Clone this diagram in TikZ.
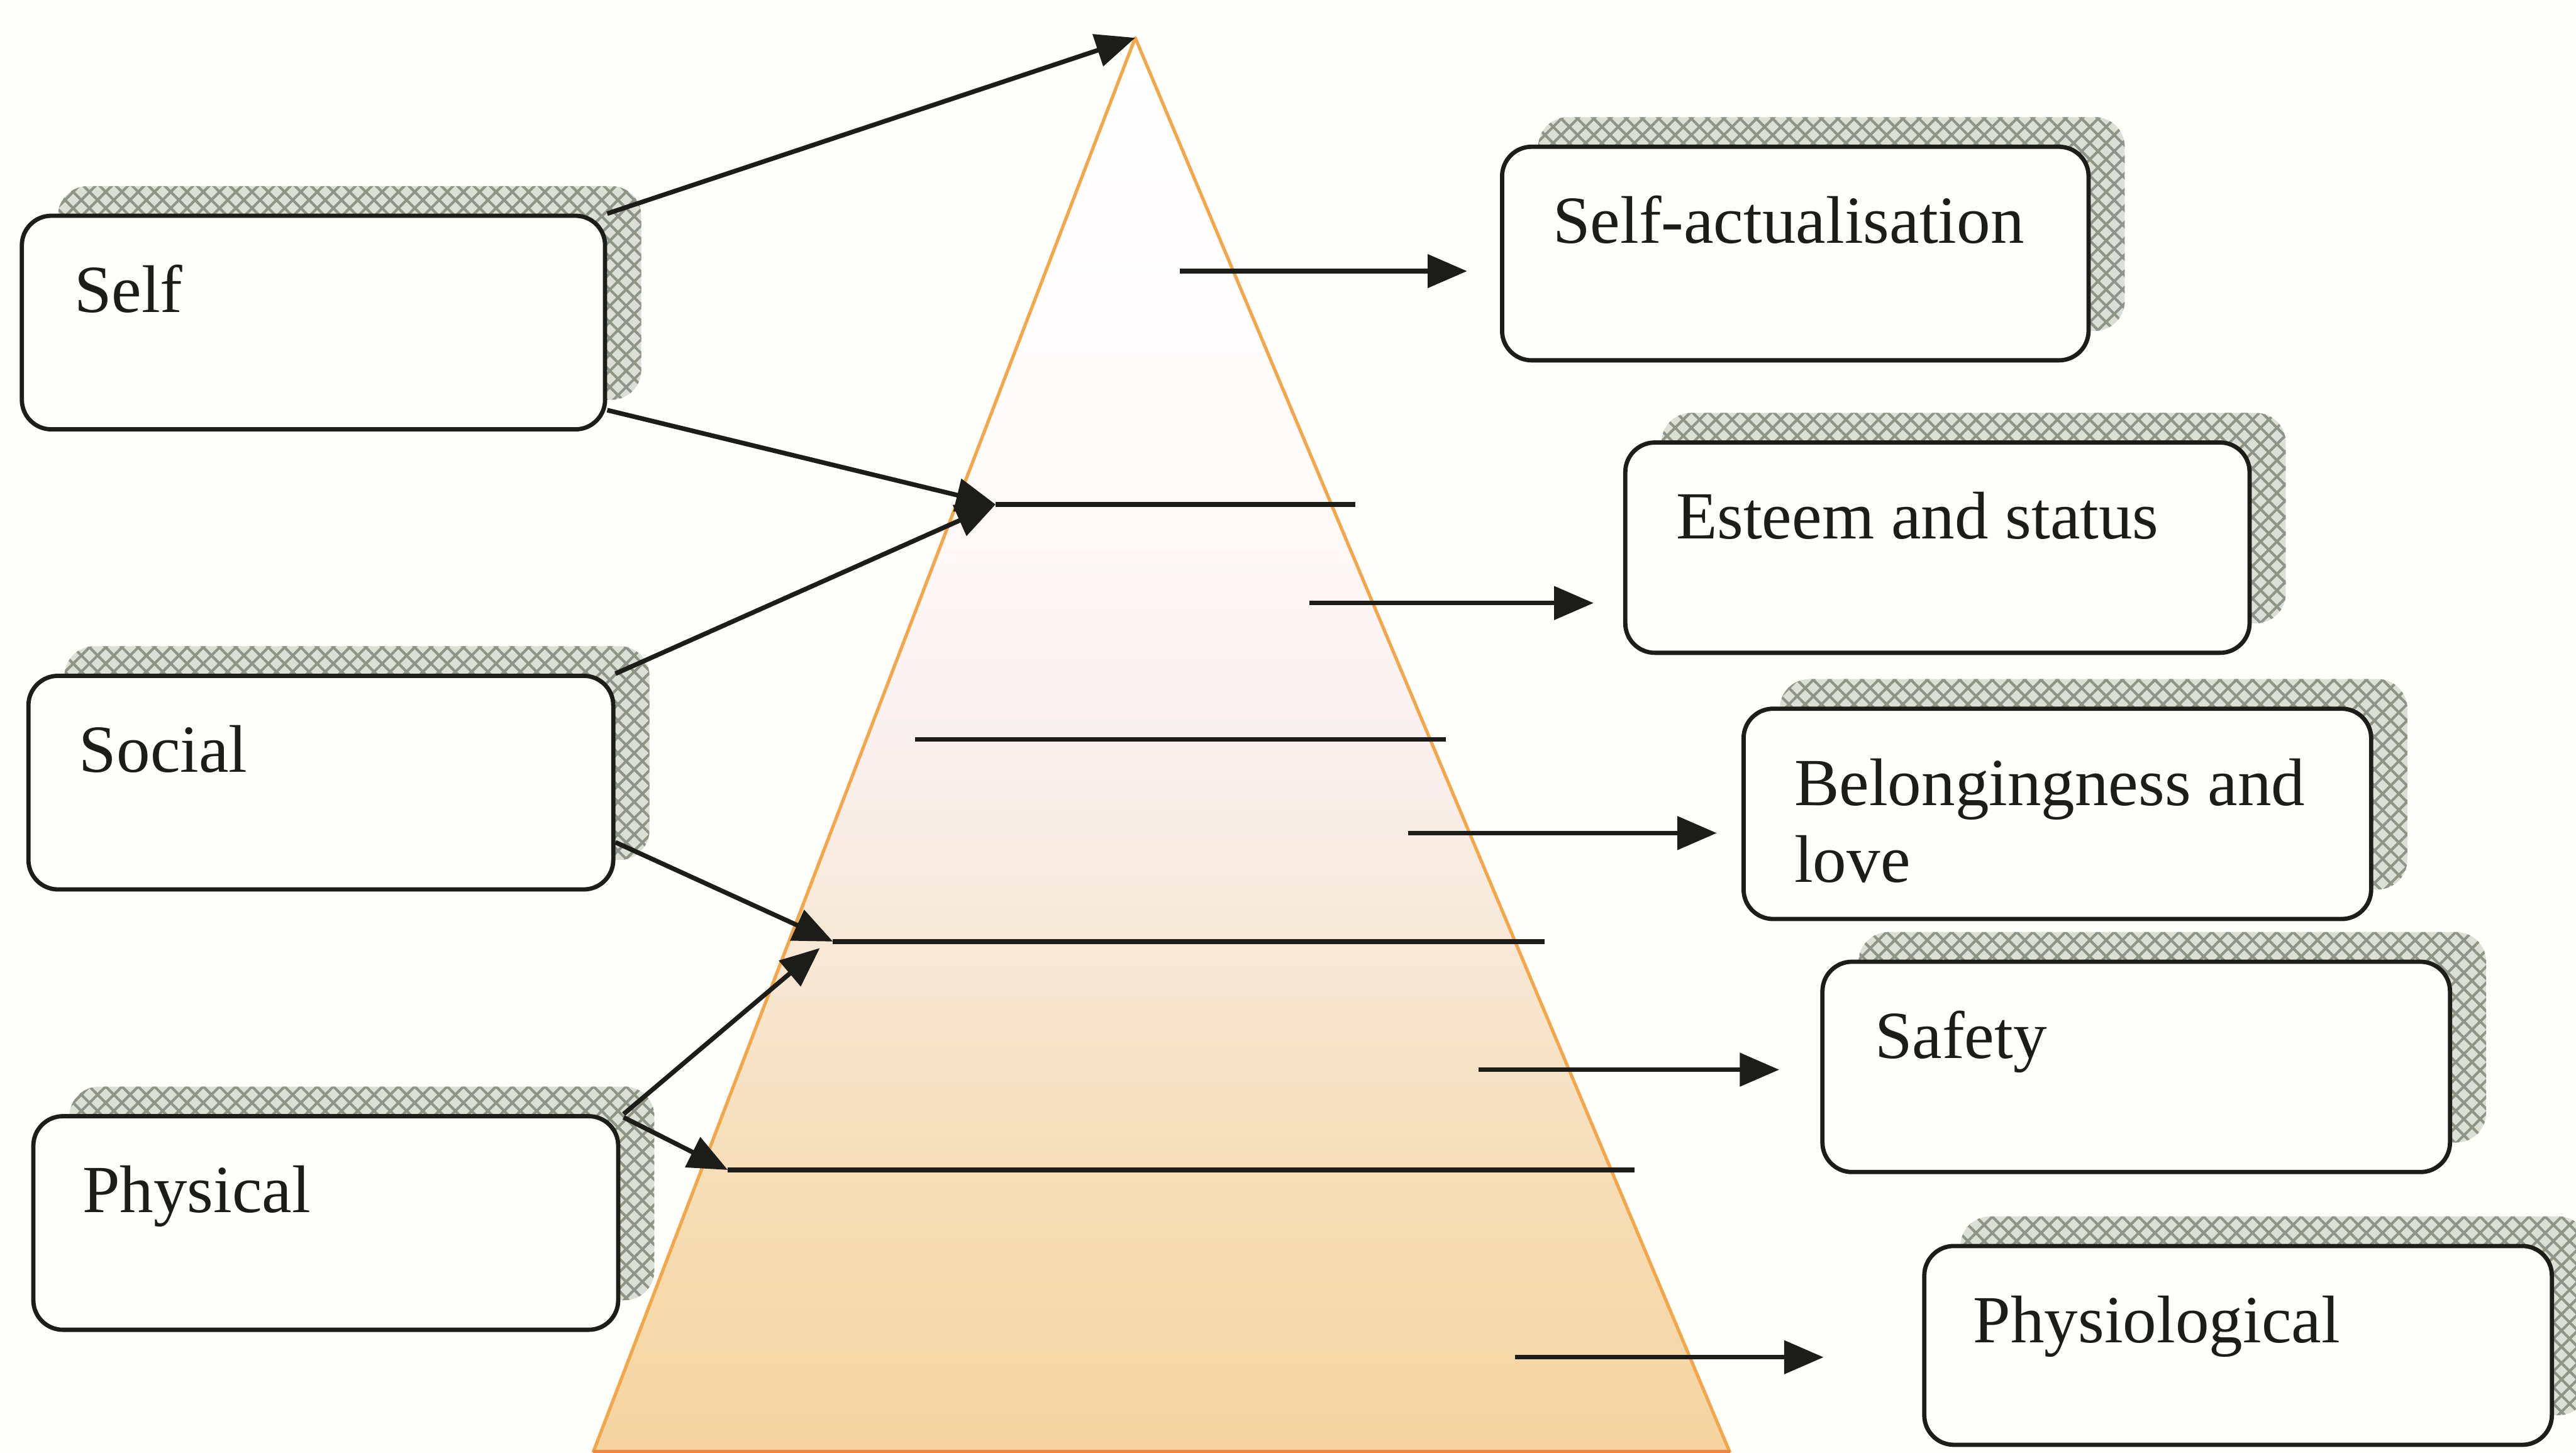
\documentclass[tikz,border=0pt]{standalone}
\usepackage{fontspec}
\setmainfont{Liberation Serif}
\usetikzlibrary{arrows.meta,shadows,patterns.meta}

\definecolor{paper}{HTML}{FEFEFA}
\definecolor{ink}{HTML}{1C1C18}
\definecolor{hatchbase}{HTML}{DCDFD6}
\definecolor{hatch}{HTML}{8E9486}
\definecolor{pyrline}{HTML}{F4A64A}
\definecolor{pyrA}{HTML}{FFFFFF}
\definecolor{pyrB}{HTML}{FEFAFA}
\definecolor{pyrC}{HTML}{F9F0EF}
\definecolor{pyrD}{HTML}{F7E8D6}
\definecolor{pyrE}{HTML}{F6DEB8}
\definecolor{pyrF}{HTML}{F5D4A0}

% vertical fill of the pyramid: the path spans 25bp (base) to 75bp (apex)
\pgfdeclareverticalshading{pyrshade}{100bp}{
  color(0bp)=(pyrF); color(25bp)=(pyrF); color(35bp)=(pyrE);
  color(43bp)=(pyrD); color(50bp)=(pyrC); color(59bp)=(pyrB);
  color(75bp)=(pyrA); color(100bp)=(pyrA)}

\tikzset{
  needbox/.style={draw=ink, line width=2.6pt, fill=paper, rounded corners=18pt,
    anchor=north west, inner sep=0pt,
    general shadow={shadow xshift=22pt, shadow yshift=18pt, fill=hatchbase},
    general shadow={shadow xshift=22pt, shadow yshift=18pt,
      pattern={Lines[angle=45,distance=7pt,line width=1.6pt]}, pattern color=hatch},
    general shadow={shadow xshift=22pt, shadow yshift=18pt,
      pattern={Lines[angle=-45,distance=7pt,line width=1.6pt]}, pattern color=hatch}},
  needtext/.style={anchor=base west, inner sep=0pt,
    font=\fontsize{41}{47}\selectfont, text=ink},
  link/.style={draw=ink, line width=2.8pt, -{Triangle[length=24pt,width=20pt]}},
  level/.style={draw=ink, line width=2.8pt},
}

\begin{document}
\begin{tikzpicture}[x=1pt, y=-1pt]
  % page
  \fill[paper] (0,0) rectangle (1568,884);
  \useasboundingbox (0,0) rectangle (1568,884);

  % pyramid
  \coordinate (apex) at (691,23);
  \coordinate (baseL) at (361,884);
  \coordinate (baseR) at (1053,884);
  \shade[shading=pyrshade] (apex) -- (baseL) -- (baseR) -- cycle;
  \draw[pyrline, line width=2pt, line join=round] (baseL) -- (apex) -- (baseR);
  \draw[pyrline!80!red, line width=3pt] (baseL) -- (baseR);

  % needs (right)
  \node[needbox, minimum width=357pt, minimum height=130pt] (selfact) at (913,88) {};
  \node[needbox, minimum width=380pt, minimum height=128pt] (esteem) at (988,268) {};
  \node[needbox, minimum width=382pt, minimum height=128pt] (belong) at (1060,430) {};
  \node[needbox, minimum width=382pt, minimum height=128pt] (safety) at (1108,584) {};
  \node[needbox, minimum width=382pt, minimum height=121pt] (physio) at (1170,757) {};

  % groups (left)
  \node[needbox, minimum width=355pt, minimum height=130pt] (self) at (12,130) {};
  \node[needbox, minimum width=356pt, minimum height=130pt] (social) at (16,410) {};
  \node[needbox, minimum width=356pt, minimum height=130pt] (physical) at (19,678) {};

  % labels
  \node[needtext] (tselfact) at ([shift={(32,60)}]selfact.north west) {Self-actualisation};
  \node[needtext] (testeem) at ([shift={(32,60)}]esteem.north west) {Esteem and status};
  \node[needtext] (tbelong) at ([shift={(32,60)}]belong.north west) {Belongingness and};
  \node[needtext] (tlove) at ([shift={(32,107)}]belong.north west) {love};
  \node[needtext] (tsafety) at ([shift={(33,60)}]safety.north west) {Safety};
  \node[needtext] (tphysio) at ([shift={(31,60)}]physio.north west) {Physiological};
  \node[needtext] (tself) at ([shift={(33,60)}]self.north west) {Self};
  \node[needtext] (tsocial) at ([shift={(32,60)}]social.north west) {Social};
  \node[needtext] (tphysical) at ([shift={(31,60)}]physical.north west) {Physical};

  % levels inside the pyramid
  \coordinate (lv1) at (606,307);  \coordinate (lv1e) at (825,307);
  \coordinate (lv2) at (557,450);  \coordinate (lv2e) at (880,450);
  \coordinate (lv3) at (507,573);  \coordinate (lv3e) at (940,573);
  \coordinate (lv4) at (443,712);  \coordinate (lv4e) at (995,712);
  \draw[level] (lv1) -- (lv1e);
  \draw[level] (lv2) -- (lv2e);
  \draw[level] (lv3) -- (lv3e);
  \draw[level] (lv4) -- (lv4e);

  % arrows from the groups
  \draw[link] (self.north east) -- (apex);
  \draw[link] ([shift={(0,-13)}]self.south east) -- (lv1);
  \draw[link] (social.north east) -- (lv1);
  \draw[link] ([shift={(0,-30)}]social.south east) -- (lv3);
  \draw[link] ([shift={(2,0)}]physical.north east) -- ([shift={(-8,4)}]lv3);
  \draw[link] ([shift={(2,2)}]physical.north east) -- (lv4);

  % arrows to the needs
  \coordinate (r1) at (718,165);
  \coordinate (r2) at (797,367);
  \coordinate (r3) at (857,507);
  \coordinate (r4) at (900,651);
  \coordinate (r5) at (922,826);
  \draw[link, shorten >=20pt] (r1) -- (r1 -| selfact.west);
  \draw[link, shorten >=18pt] (r2) -- (r2 -| esteem.west);
  \draw[link, shorten >=15pt] (r3) -- (r3 -| belong.west);
  \draw[link, shorten >=25pt] (r4) -- (r4 -| safety.west);
  \draw[link, shorten >=60pt] (r5) -- (r5 -| physio.west);
\end{tikzpicture}
\end{document}
